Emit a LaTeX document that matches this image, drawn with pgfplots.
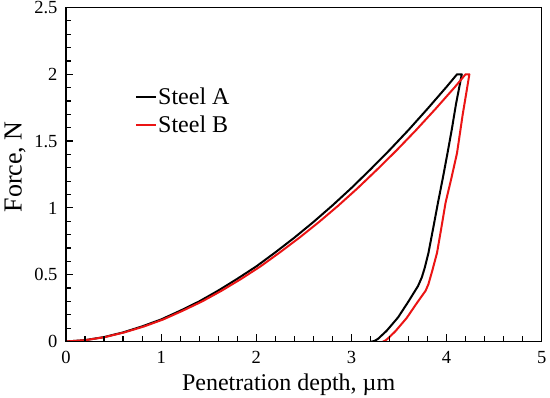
\documentclass[border=0pt]{standalone}
\usepackage{fontspec}
\setmainfont{Liberation Serif}
\usepackage{pgfplots}
\pgfplotsset{compat=1.18}
\definecolor{myred}{RGB}{235,20,20}
\begin{document}
\begin{tikzpicture}
\begin{axis}[
  at={(0pt,0pt)}, anchor=south west,
  scale only axis, width=475.7pt, height=334pt,
  xmin=0, xmax=5, ymin=0, ymax=2.5,
  xtick={0,1,2,3,4,5}, ytick={0,0.5,1,1.5,2,2.5},
  minor x tick num=4, minor y tick num=4,
  tick align=inside, major tick length=7pt, minor tick length=5pt,
  xtick pos=left, ytick pos=left,
  axis on top,
  axis line style={line width=1.1pt},
  tick style={line width=1.2pt, black},
  /pgf/number format/assume math mode=true,
  ticklabel style={font=\fontsize{18.5}{18.5}\selectfont},
  xticklabel style={yshift=-6pt},
  yticklabel style={xshift=-5pt},
  xlabel={Penetration depth, µm},
  ylabel={Force, N},
  xlabel style={font=\fontsize{24}{24}\selectfont, at={(axis description cs:0.468,-0.1476)}, anchor=base},
  ylabel style={font=\fontsize{26}{26}\selectfont, at={(axis description cs:-0.107,0.523)}, anchor=center},
  legend style={at={(rel axis cs:0.145,0.762)}, anchor=north west, draw=none, fill=none,
    inner sep=0pt, font=\fontsize{24}{24}\selectfont, row sep=8pt,
    nodes={inner sep=1pt}},
  legend cell align=left,
  legend image code/.code={\draw[#1] (0pt,0pt) -- (20pt,0pt);},
]
\addplot[black, line width=2pt, line join=round] coordinates {
(0,0) (0.2,0.01) (0.4,0.033) (0.6,0.068) (0.8,0.113) (1.0,0.165) (1.2,0.23) (1.4,0.30)
(1.6,0.381) (1.8,0.469) (2.0,0.562) (2.2,0.667) (2.4,0.777) (2.6,0.894) (2.8,1.018)
(3.0,1.149) (3.2,1.288) (3.4,1.432) (3.6,1.583) (3.8,1.742) (4.0,1.906) (4.11,2.0) (4.16,2.0)
(4.10,1.78) (4.055,1.587) (4.01,1.41) (3.96,1.22) (3.91,1.04) (3.86,0.85) (3.81,0.664)
(3.77,0.55) (3.74,0.48) (3.70,0.415) (3.60,0.30) (3.49,0.18) (3.37,0.08) (3.28,0.02) (3.24,0.003) (3.21,0)
};
\addlegendentry{Steel A}
\addplot[myred, line width=2pt, line join=round] coordinates {
(0,0) (0.204,0.01) (0.409,0.033) (0.613,0.068) (0.818,0.112) (1.022,0.165) (1.226,0.23)
(1.431,0.30) (1.635,0.38) (1.84,0.468) (2.044,0.562) (2.248,0.667) (2.453,0.777)
(2.657,0.893) (2.862,1.017) (3.066,1.148) (3.27,1.287) (3.475,1.431) (3.679,1.582)
(3.884,1.741) (4.088,1.905) (4.20,2.0) (4.24,2.0)
(4.17,1.7) (4.11,1.41) (4.05,1.22) (3.99,1.04) (3.945,0.85) (3.90,0.664) (3.85,0.53)
(3.81,0.43) (3.78,0.38) (3.69,0.29) (3.58,0.175) (3.46,0.075) (3.38,0.02) (3.35,0.004) (3.33,0)
};
\addlegendentry{Steel B}
\end{axis}
\pgfresetboundingbox
\path (-66pt,-56.5pt) rectangle (484pt,341.5pt);
\end{tikzpicture}
\end{document}
